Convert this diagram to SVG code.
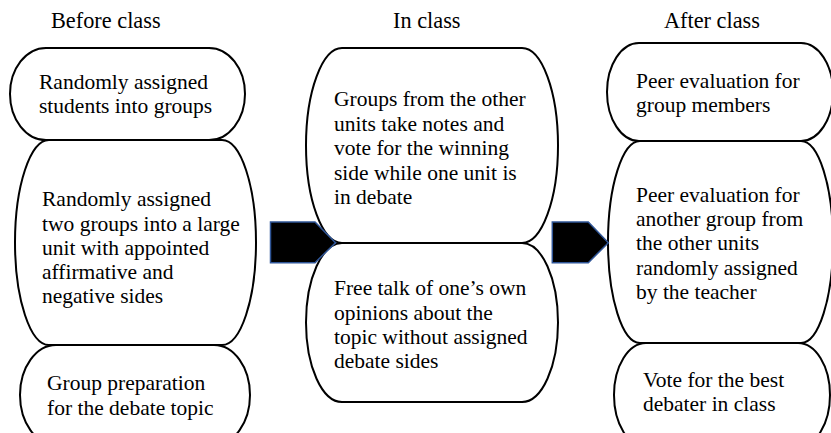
<svg xmlns="http://www.w3.org/2000/svg" width="831" height="433" viewBox="0 0 831 433">
<style>
.box{fill:#fff;stroke:#000;stroke-width:2}
.arrow{fill:#000;stroke:#2F5597;stroke-width:1.5}
text{font-family:"Liberation Serif","Times New Roman",serif;fill:#000}
.hd{font-size:22.3px}
.t{font-size:21.5px}
</style>
<rect width="831" height="433" fill="#fff"/>
<g id="headers">
<text class="hd" x="51" y="28">Before class</text>
<text class="hd" x="393" y="28">In class</text>
<text class="hd" x="664" y="28">After class</text>
</g>
<g id="before-1">
<rect class="box" x="10" y="48" width="235" height="92" rx="36" ry="46"/>
<text class="t" x="39" y="89">Randomly assigned</text>
<text class="t" x="39" y="113">students into groups</text>
</g>
<g id="before-3">
<rect class="box" x="20" y="345" width="230" height="100" rx="36" ry="50"/>
<text class="t" x="47" y="390">Group preparation</text>
<text class="t" x="47" y="415">for the debate topic</text>
</g>
<g id="before-2">
<rect class="box" x="15" y="140" width="241" height="205" rx="34" ry="102.5"/>
<text class="t" x="42" y="206">Randomly assigned</text>
<text class="t" x="42" y="231">two groups into a large</text>
<text class="t" x="42" y="255">unit with appointed</text>
<text class="t" x="42" y="279">affirmative and</text>
<text class="t" x="42" y="303">negative sides</text>
</g>
<g id="in-1">
<rect class="box" x="306" y="48" width="252" height="195" rx="36" ry="97.5"/>
<text class="t" x="334" y="106">Groups from the other</text>
<text class="t" x="334" y="130.5">units take notes and</text>
<text class="t" x="334" y="155">vote for the winning</text>
<text class="t" x="334" y="179.5">side while one unit is</text>
<text class="t" x="334" y="204">in debate</text>
</g>
<g id="in-2">
<rect class="box" x="306" y="243" width="252" height="159" rx="36" ry="79.5"/>
<text class="t" x="334" y="295">Free talk of one’s own</text>
<text class="t" x="334" y="320">opinions about the</text>
<text class="t" x="334" y="344">topic without assigned</text>
<text class="t" x="334" y="368">debate sides</text>
</g>
<g id="after-1">
<rect class="box" x="607" y="43" width="226" height="98" rx="32" ry="49"/>
<text class="t" x="636" y="88">Peer evaluation for</text>
<text class="t" x="636" y="112">group members</text>
</g>
<g id="after-3">
<rect class="box" x="614" y="343" width="216" height="104" rx="32" ry="52"/>
<text class="t" x="643" y="387">Vote for the best</text>
<text class="t" x="643" y="411">debater in class</text>
</g>
<g id="after-2">
<rect class="box" x="608" y="141" width="225" height="202" rx="32" ry="101"/>
<text class="t" x="636" y="202">Peer evaluation for</text>
<text class="t" x="636" y="226">another group from</text>
<text class="t" x="636" y="250">the other units</text>
<text class="t" x="636" y="275">randomly assigned</text>
<text class="t" x="636" y="299">by the teacher</text>
</g>
<g id="connectors">
<path class="arrow" d="M270.5,222 L315,222 L335.5,242.7 L315,262.7 L270.5,262.7 Z"/>
<path class="arrow" d="M552.3,222 L588.3,222 L608.3,242.7 L588.3,262.7 L552.3,262.7 Z"/>
</g>
</svg>
